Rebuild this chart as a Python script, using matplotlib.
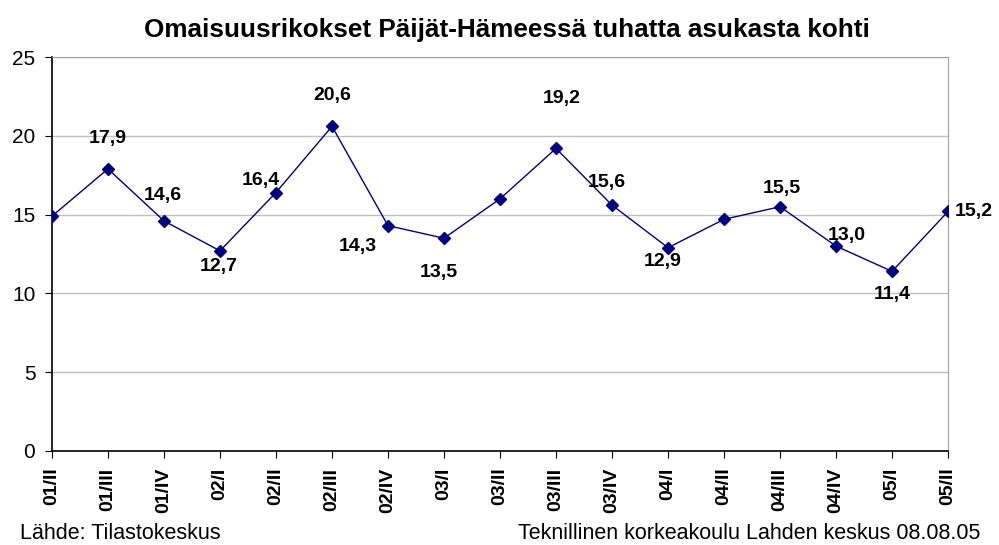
import matplotlib.pyplot as plt

quarters = ["01/II", "01/III", "01/IV", "02/I", "02/II", "02/III", "02/IV", "03/I",
            "03/II", "03/III", "03/IV", "04/I", "04/II", "04/III", "04/IV", "05/I", "05/II"]
values = [14.9, 17.9, 14.6, 12.7, 16.4, 20.6, 14.3, 13.5,
          16.0, 19.2, 15.6, 12.9, 14.7, 15.5, 13.0, 11.4, 15.2]
# which points carry a value label
shown = [False, True, True, True, True, True, True, True,
         False, True, True, True, False, True, True, True, True]
# label offsets in points (dx, dy), dy positive = downwards
offsets = [(0, 0), (0, -22), (-1, -18), (-1, 11), (-11, -9), (0, -22), (-22, 15), (-4, 25),
           (0, 0), (4, -36), (-4, -16), (-4, 10), (0, 0), (1, -13), (8, -8), (0, 17), (5, 0)]

plt.rcParams['font.family'] = ['Liberation Sans', 'DejaVu Sans']

fig = plt.figure(figsize=(9.99, 5.45), dpi=100)
ax = fig.add_axes([0.052, 0.1725, 0.897, 0.7229])

x = list(range(len(quarters)))
ax.plot(x, values, color='#000080', linewidth=1, marker='D', markersize=6.5, zorder=3)

for i, v in enumerate(values):
    if not shown[i]:
        continue
    dx, dy = offsets[i]
    ha = 'left' if i == len(values) - 1 else 'center'
    ax.annotate(f"{v:.1f}".replace('.', ','), (i, v), xytext=(dx, -dy),
                textcoords='offset points', ha=ha, va='center',
                fontsize=14, fontweight='bold', color='black')

ax.set_xlim(0, len(quarters) - 1)
ax.set_ylim(0, 25)
ax.set_yticks([0, 5, 10, 15, 20, 25])
ax.set_xticks(x)
ax.set_xticklabels(quarters, rotation=90, fontsize=14, fontweight='bold')
ax.tick_params(axis='y', labelsize=15, length=5, direction='out', colors='black', pad=7)
ax.tick_params(axis='x', length=5, direction='out', pad=7)
ax.yaxis.grid(True, color='#c0c0c0', linewidth=1)
ax.set_axisbelow(True)

for side in ['top', 'right']:
    ax.spines[side].set_color('#a0a0a0')
for side in ['left', 'bottom']:
    ax.spines[side].set_color('black')
    ax.spines[side].set_linewidth(1.2)

fig.text(0.507, 0.945, "Omaisuusrikokset Päijät-Hämeessä tuhatta asukasta kohti",
         ha='center', va='center', fontsize=18.8, fontweight='bold')
fig.text(0.02, 0.022, "Lähde: Tilastokeskus", ha='left', va='center', fontsize=15.5)
fig.text(0.981, 0.022, "Teknillinen korkeakoulu Lahden keskus 08.08.05",
         ha='right', va='center', fontsize=15.5)

fig.savefig("out.png", dpi=100)
